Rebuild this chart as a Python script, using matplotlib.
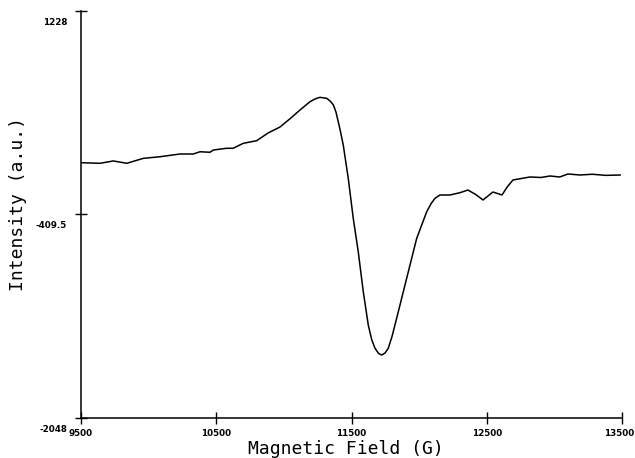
import matplotlib
matplotlib.use("Agg")
import matplotlib.pyplot as plt

# EPR-like spectrum (field in G, intensity in a.u.)
field_g = [
    9500, 9640, 9739, 9813, 9838, 9961, 10084, 10232, 10330, 10380,
    10454, 10478, 10577, 10624, 10700, 10799, 10883, 10971, 11050, 11119,
    11193, 11235, 11267, 11317, 11345, 11366, 11385, 11402, 11420, 11439,
    11476, 11513, 11550, 11587, 11624, 11650, 11674, 11700, 11723, 11748,
    11772, 11800, 11834, 11908, 11982, 12056, 12090, 12117, 12154, 12228,
    12300, 12361, 12420, 12472, 12546, 12613, 12650, 12694, 12820, 12900,
    12968, 13040, 13100, 13190, 13280, 13380, 13486,
]
intensity = [
    7, 2, 21, 7, 2, 42, 55, 77, 77, 95,
    91, 109, 123, 123, 163, 184, 246, 294, 365, 431,
    498, 522, 533, 525, 500, 472, 415, 337, 250, 149,
    -119, -441, -710, -1031, -1300, -1420, -1487, -1528, -1541, -1525,
    -1487, -1390, -1245, -923, -602, -388, -320, -280, -253, -253,
    -235, -213, -250, -293, -229, -253, -190, -132, -108, -112,
    -100, -108, -84, -92, -86, -95, -92,
]

x_ticks = [9500, 10500, 11500, 12500, 13500]
y_ticks = [1228, -409.5, -2048]
y_tick_labels = ["1228", "-409.5", "-2048"]

fig = plt.figure(figsize=(6.35, 4.58), dpi=100)
ax = fig.add_axes([81 / 635, 1 - 418 / 458, (622 - 81) / 635, (418 - 11) / 458])

ax.plot(field_g, intensity, color="black", linewidth=1.1)

ax.set_xlim(9500, 13500)
ax.set_ylim(-2048, 1228)

for side in ("top", "right"):
    ax.spines[side].set_visible(False)
for side in ("left", "bottom"):
    ax.spines[side].set_linewidth(1.1)

ax.set_xticks(x_ticks)
ax.set_yticks(y_ticks)
ax.set_xticklabels([])
ax.set_yticklabels([])
ax.tick_params(direction="inout", length=8, width=1.0, color="black")

# tick labels sit a bit below their ticks, as on the old plotter output
tick_font = dict(fontsize=6.3, fontweight="bold", family="DejaVu Sans")
for v in x_ticks:
    # last label hugs the right edge of the page instead of centring
    last = v == x_ticks[-1]
    ax.annotate(str(v), xy=(v, 0), xycoords=("data", "axes fraction"),
                xytext=(8.5 if last else 0, -11), textcoords="offset points",
                ha="right" if last else "center", va="center", **tick_font)
for v, lab in zip(y_ticks, y_tick_labels):
    ax.annotate(lab, xy=(0, v), xycoords=("axes fraction", "data"),
                xytext=(-10, -8), textcoords="offset points",
                ha="right", va="center", **tick_font)

mono = "DejaVu Sans Mono"
fig.text(346 / 635, 1 - 449 / 458, "Magnetic Field (G)", family=mono,
         fontsize=13, fontweight="light", ha="center", va="center")
fig.text(18 / 635, 1 - 204 / 458, "Intensity (a.u.)", family=mono,
         fontsize=13, fontweight="light", ha="center", va="center", rotation=90)

fig.savefig("out.png", dpi=100)
